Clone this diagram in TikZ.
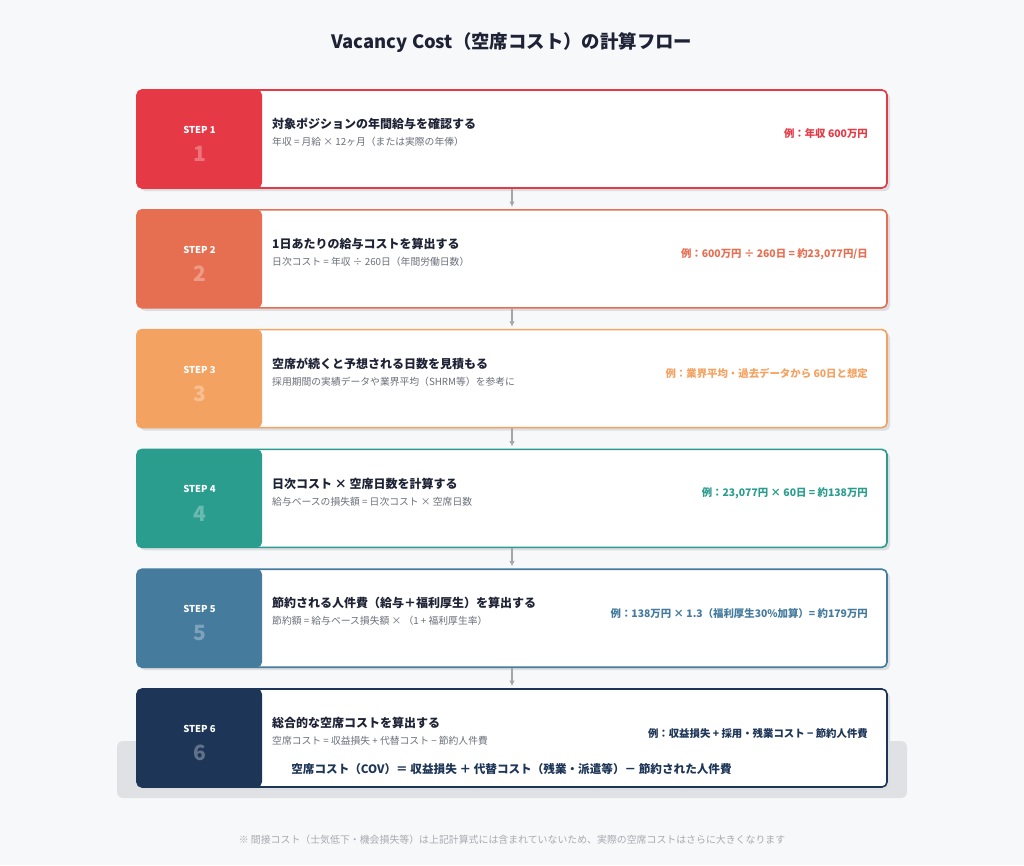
\documentclass[tikz,border=0pt]{standalone}
\usepackage{fontspec}
\setmainfont{Noto Sans CJK JP}
\usetikzlibrary{arrows.meta,shadows}

\definecolor{bgcol}{HTML}{F7F8FA}
\definecolor{inkcol}{HTML}{1E2235}
\definecolor{subcol}{HTML}{6B6F7A}
\definecolor{notecol}{HTML}{A8AAB0}
\definecolor{arrowcol}{HTML}{A4A6AB}
\definecolor{shadowcol}{HTML}{DCDEE2}
\definecolor{barcol}{HTML}{DFE1E5}
\definecolor{stepA}{HTML}{E63946}
\definecolor{stepB}{HTML}{E76F51}
\definecolor{stepC}{HTML}{F4A261}
\definecolor{stepD}{HTML}{2A9D8F}
\definecolor{stepE}{HTML}{457B9D}
\definecolor{stepF}{HTML}{1D3557}

\begin{document}
\begin{tikzpicture}[x=1pt,y=-1pt]
% ---------------------------------------------------------
% Dimensions (pixel grid of the sheet)
% ---------------------------------------------------------
\def\SheetW{1024}   % sheet width
\def\SheetH{865}    % sheet height
\def\BoxL{137}      % left edge of step boxes
\def\BoxR{887}      % right edge of step boxes
\def\BoxH{98}       % height of one step box
\def\TopY{90}       % top of first box
\def\Pitch{119.8}   % distance box to box
\def\BandW{125}     % width of coloured band
\def\TextX{272}     % left edge of texts
\def\ExX{868}       % right edge of examples

% Derived
\pgfmathsetmacro{\MidX}{(\BoxL+\BoxR)/2}
\pgfmathsetmacro{\BoxW}{\BoxR-\BoxL}
\pgfmathsetmacro{\BandX}{\BoxL+\BandW/2}

% ---------------------------------------------------------
% Styles
% ---------------------------------------------------------
\tikzset{
  step box/.style={draw=#1, line width=1.6pt, fill=white, rounded corners=5pt,
    minimum width=\BoxW, minimum height=\BoxH, inner sep=0pt,
    drop shadow={shadow xshift=3pt, shadow yshift=-3pt, fill=shadowcol, opacity=1},
    path picture={\fill[#1] (path picture bounding box.south west)
      rectangle ([xshift=\BandW]path picture bounding box.north west);}},
  step label/.style={font=\bfseries\fontsize{9.5}{10}\selectfont, text=white},
  step num/.style={font=\bfseries\fontsize{21}{22}\selectfont, text=white, text opacity=0.3},
  head text/.style={font=\bfseries\fontsize{12}{14}\selectfont, text=inkcol,
    anchor=west, inner sep=0pt},
  sub text/.style={font=\fontsize{9.8}{11}\selectfont, text=subcol,
    anchor=west, inner sep=0pt},
  ex text/.style={font=\bfseries\fontsize{10.4}{12}\selectfont, text=#1,
    anchor=east, inner sep=0pt},
  flow arrow/.style={draw=arrowcol, line width=1.2pt, shorten >=2pt,
    -{Latex[length=5.5pt,width=5.5pt]}}
}

% =========================================================
% 1) SHEET + TITLE
% =========================================================
\fill[bgcol] (0,0) rectangle (\SheetW,\SheetH);
\useasboundingbox (0,0) rectangle (\SheetW,\SheetH);

\node[font=\bfseries\fontsize{18.4}{20}\selectfont, text=inkcol] (title)
  at (\MidX,43) {Vacancy Cost（空席コスト）の計算フロー};

% =========================================================
% 2) SUMMARY BAR (behind step 6)
% =========================================================
\fill[barcol, rounded corners=6pt] (117,741) rectangle (907,798);

% =========================================================
% 3) STEP BOXES
% =========================================================
\foreach \i/\col/\head/\sub/\ex in {
  1/stepA/{対象ポジションの年間給与を確認する}/{年収 = 月給 × 12ヶ月（または実際の年俸）}/{例：年収 600万円},
  2/stepB/{1日あたりの給与コストを算出する}/{日次コスト = 年収 ÷ 260日（年間労働日数）}/{例：600万円 ÷ 260日 = 約23,077円/日},
  3/stepC/{空席が続くと予想される日数を見積もる}/{採用期間の実績データや業界平均（SHRM等）を参考に}/{例：業界平均・過去データから 60日と想定},
  4/stepD/{日次コスト × 空席日数を計算する}/{給与ベースの損失額 = 日次コスト × 空席日数}/{例：23,077円 × 60日 = 約138万円},
  5/stepE/{節約される人件費（給与＋福利厚生）を算出する}/{節約額 = 給与ベース損失額 × （1 + 福利厚生率）}/{例：138万円 × 1.3（福利厚生30\%加算）= 約179万円},
  6/stepF/{総合的な空席コストを算出する}/{空席コスト = 収益損失 + 代替コスト − 節約人件費}/{例：収益損失 + 採用・残業コスト − 節約人件費}
}{
  \pgfmathsetmacro{\Top}{\TopY+(\i-1)*\Pitch}
  \node[step box=\col] (s\i) at (\MidX,{\Top+\BoxH/2}) {};
  \node[step label] (l\i) at (\BandX,{\Top+40}) {STEP \i};
  \node[step num]   (n\i) at (\BandX,{\Top+64}) {\i};
  \node[head text]  (h\i) at (\TextX,{\Top+34}) {\head};
  \node[sub text]   (t\i) at (\TextX,{\Top+52}) {\sub};
  \node[ex text=\col] (e\i) at (\ExX,{\Top+44}) {\ex};
}

% Flow arrows between boxes
\foreach \i [evaluate=\i as \j using int(\i+1)] in {1,...,5}
  \draw[flow arrow] (s\i.south) -- (s\j.north);

% =========================================================
% 4) FORMULA + NOTE
% =========================================================
\node[font=\bfseries\fontsize{11.6}{13}\selectfont, text=stepF] (formula)
  at (511.5,769) {空席コスト（COV）＝ 収益損失 ＋ 代替コスト（残業・派遣等）－ 節約された人件費};

\node[font=\fontsize{9.9}{11}\selectfont, text=notecol] (note) at (\MidX,840)
  {※ 間接コスト（士気低下・機会損失等）は上記計算式には含まれていないため、実際の空席コストはさらに大きくなります};

\end{tikzpicture}
\end{document}
